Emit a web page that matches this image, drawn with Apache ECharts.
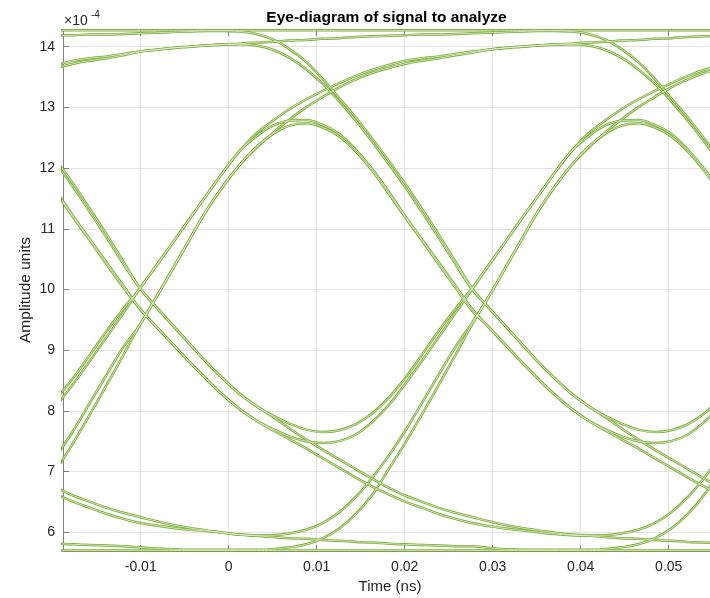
<!DOCTYPE html>
<html>
<head>
<meta charset="utf-8">
<title>Eye-diagram of signal to analyze</title>
<script src="https://cdn.jsdelivr.net/npm/echarts@6/dist/echarts.min.js"></script>
<style>
html, body { margin: 0; padding: 0; background: #fff; }
#eye { width: 710px; height: 598px; }
</style>
</head>
<body>
<div id="eye"></div>
<script>
// sample instants (ns) shared by every trace, about twenty per bit
var timeNs = [-0.01951, -0.01763, -0.01574, -0.01385, -0.01197,
  -0.01008, -0.00819, -0.00631, -0.00442, -0.00253, -0.00065, 0.00124, 0.00313, 0.00501, 0.00690, 0.00879,
  0.01067, 0.01256, 0.01445, 0.01633, 0.01822, 0.02010, 0.02199, 0.02388, 0.02576, 0.02765,
  0.02954, 0.03142, 0.03331, 0.03520, 0.03708, 0.03897, 0.04086, 0.04274, 0.04463, 0.04652,
  0.04840, 0.05029, 0.05218, 0.05406, 0.05595];

// amplitudes, in units of 1e-4 (as on the axis)
var trace00 = [5.70, 5.70, 5.70, 5.70, 5.70,
  5.70, 5.70, 5.70, 5.70, 5.70, 5.70, 5.70, 5.70, 5.70, 5.70, 5.70, 5.70, 5.70, 5.70, 5.70, 5.70, 5.70, 5.70, 5.70, 5.70, 5.70,
  5.70, 5.70, 5.70, 5.70, 5.70, 5.70, 5.70, 5.70, 5.70, 5.70, 5.70, 5.70, 5.70, 5.70, 5.70];
var trace01 = [5.81, 5.80, 5.79, 5.78, 5.77,
  5.75, 5.73, 5.72, 5.71, 5.71, 5.71, 5.71, 5.71, 5.72, 5.75, 5.80, 5.90, 6.06, 6.30, 6.62, 7.05, 7.48, 7.95, 8.43, 8.92, 9.42,
  9.88, 10.35, 10.83, 11.30, 11.70, 12.05, 12.35, 12.56, 12.70, 12.74, 12.67, 12.52, 12.27, 11.95, 11.57];
var trace02 = [7.05, 7.48, 7.95, 8.43, 8.92,
  9.42, 9.88, 10.35, 10.83, 11.30, 11.70, 12.05, 12.35, 12.56, 12.70, 12.74, 12.67, 12.52, 12.27, 11.95, 11.57, 11.18, 10.80, 10.41, 10.03, 9.65,
  9.38, 9.09, 8.80, 8.52, 8.26, 8.03, 7.84, 7.68, 7.53, 7.38, 7.22, 7.06, 6.90, 6.75, 6.62];
var trace03 = [7.27, 7.68, 8.14, 8.60, 9.05,
  9.42, 9.88, 10.35, 10.83, 11.30, 11.70, 12.05, 12.33, 12.58, 12.80, 13.00, 13.17, 13.33, 13.46, 13.57, 13.65, 13.72, 13.77, 13.81, 13.86, 13.90,
  13.95, 13.98, 14.00, 14.02, 14.03, 14.04, 14.02, 13.95, 13.82, 13.63, 13.39, 13.10, 12.78, 12.43, 12.06];
var trace04 = [11.57, 11.18, 10.80, 10.41, 10.03,
  9.68, 9.38, 9.09, 8.80, 8.52, 8.26, 8.03, 7.84, 7.68, 7.53, 7.38, 7.22, 7.06, 6.90, 6.75, 6.62, 6.50, 6.40, 6.30, 6.22, 6.15,
  6.10, 6.06, 6.03, 6.00, 5.97, 5.95, 5.94, 5.92, 5.90, 5.89, 5.87, 5.86, 5.84, 5.83, 5.81];
var trace05 = [11.60, 11.20, 10.82, 10.44, 10.06,
  9.68, 9.38, 9.09, 8.80, 8.52, 8.26, 8.03, 7.84, 7.70, 7.58, 7.50, 7.47, 7.50, 7.61, 7.82, 8.10, 8.45, 8.83, 9.22, 9.61, 10.00,
  10.40, 10.78, 11.17, 11.55, 11.93, 12.28, 12.52, 12.70, 12.78, 12.79, 12.71, 12.56, 12.30, 11.98, 11.60];
var trace06 = [13.65, 13.72, 13.77, 13.81, 13.86,
  13.92, 13.95, 13.98, 14.00, 14.02, 14.03, 14.04, 14.02, 13.95, 13.82, 13.63, 13.39, 13.10, 12.78, 12.43, 12.06, 11.68, 11.27, 10.85, 10.42, 10.00,
  9.70, 9.40, 9.10, 8.80, 8.53, 8.28, 8.08, 7.90, 7.71, 7.53, 7.36, 7.20, 7.04, 6.88, 6.73];
var trace07 = [13.70, 13.77, 13.81, 13.84, 13.88,
  13.92, 13.95, 13.98, 14.00, 14.02, 14.04, 14.05, 14.07, 14.08, 14.10, 14.11, 14.13, 14.14, 14.16, 14.17, 14.18, 14.19, 14.20, 14.20, 14.21, 14.22,
  14.23, 14.24, 14.25, 14.26, 14.26, 14.25, 14.21, 14.12, 13.96, 13.75, 13.47, 13.15, 12.83, 12.48, 12.11];
var trace08 = [6.62, 6.50, 6.40, 6.30, 6.22,
  6.15, 6.11, 6.07, 6.04, 6.02, 5.99, 5.96, 5.94, 5.92, 5.90, 5.89, 5.87, 5.86, 5.84, 5.83, 5.81, 5.80, 5.79, 5.78, 5.77, 5.77,
  5.74, 5.72, 5.71, 5.71, 5.71, 5.71, 5.71, 5.72, 5.75, 5.80, 5.90, 6.06, 6.30, 6.62, 7.05];
var trace09 = [6.73, 6.60, 6.50, 6.40, 6.32,
  6.25, 6.18, 6.12, 6.07, 6.03, 5.99, 5.96, 5.95, 5.95, 5.98, 6.04, 6.15, 6.33, 6.58, 6.90, 7.27, 7.68, 8.14, 8.60, 9.05, 9.45,
  9.88, 10.35, 10.83, 11.30, 11.70, 12.05, 12.33, 12.58, 12.80, 13.00, 13.17, 13.33, 13.46, 13.57, 13.65];
var trace10 = [8.10, 8.45, 8.83, 9.22, 9.61,
  10.02, 10.40, 10.78, 11.17, 11.55, 11.93, 12.28, 12.52, 12.70, 12.78, 12.79, 12.71, 12.56, 12.30, 11.98, 11.60, 11.20, 10.82, 10.44, 10.06, 9.68,
  9.38, 9.09, 8.80, 8.52, 8.26, 8.03, 7.84, 7.70, 7.58, 7.50, 7.47, 7.50, 7.61, 7.82, 8.10];
var trace11 = [8.22, 8.55, 8.93, 9.32, 9.68,
  10.02, 10.40, 10.78, 11.17, 11.55, 11.93, 12.28, 12.57, 12.78, 12.97, 13.13, 13.27, 13.40, 13.52, 13.62, 13.70, 13.77, 13.81, 13.84, 13.88, 13.92,
  13.95, 13.98, 14.00, 14.02, 14.04, 14.05, 14.07, 14.08, 14.10, 14.11, 14.13, 14.14, 14.16, 14.17, 14.18];
var trace12 = [12.06, 11.68, 11.27, 10.85, 10.42,
  10.02, 9.70, 9.40, 9.10, 8.80, 8.53, 8.28, 8.08, 7.90, 7.71, 7.53, 7.36, 7.20, 7.04, 6.88, 6.73, 6.60, 6.50, 6.40, 6.32, 6.25,
  6.18, 6.12, 6.07, 6.03, 5.99, 5.96, 5.95, 5.95, 5.98, 6.04, 6.15, 6.33, 6.58, 6.90, 7.27];
var trace13 = [12.11, 11.73, 11.32, 10.90, 10.46,
  10.02, 9.70, 9.40, 9.10, 8.80, 8.53, 8.28, 8.08, 7.92, 7.79, 7.69, 7.65, 7.68, 7.78, 7.96, 8.22, 8.55, 8.93, 9.32, 9.68, 10.02,
  10.40, 10.78, 11.17, 11.55, 11.93, 12.28, 12.57, 12.78, 12.97, 13.13, 13.27, 13.40, 13.52, 13.62, 13.70];
var trace14 = [14.18, 14.19, 14.20, 14.20, 14.21,
  14.22, 14.23, 14.24, 14.25, 14.26, 14.26, 14.25, 14.21, 14.12, 13.96, 13.75, 13.47, 13.15, 12.83, 12.48, 12.11, 11.73, 11.32, 10.90, 10.46, 10.02,
  9.70, 9.40, 9.10, 8.80, 8.53, 8.28, 8.08, 7.92, 7.79, 7.69, 7.65, 7.68, 7.78, 7.96, 8.22];
var trace15 = [14.27, 14.27, 14.27, 14.27, 14.27,
  14.27, 14.27, 14.27, 14.27, 14.27, 14.27, 14.27, 14.27, 14.27, 14.27, 14.27, 14.27, 14.27, 14.27, 14.27, 14.27, 14.27, 14.27, 14.27, 14.27, 14.27,
  14.27, 14.27, 14.27, 14.27, 14.27, 14.27, 14.27, 14.27, 14.27, 14.27, 14.27, 14.27, 14.27, 14.27, 14.27];

var traces = [trace00, trace01, trace02, trace03, trace04, trace05, trace06, trace07,
  trace08, trace09, trace10, trace11, trace12, trace13, trace14, trace15];

var xMin = -0.01883, xMax = 0.05469;
var yMin = 5.69, yMax = 14.275;
var font = '"Liberation Sans", Arial, Helvetica, sans-serif';
var axisGrey = '#808080';

var chart = echarts.init(document.getElementById('eye'));

function traceSeries(vals, color, width) {
  return {
    type: 'line',
    data: vals.map(function (v, i) { return [timeNs[i], v]; }),
    smooth: 0.4,
    showSymbol: false,
    silent: true,
    lineStyle: { color: color, width: width }
  };
}

var series = [];
// each trace is drawn as a green stroke with a pale core
traces.forEach(function (t) { series.push(traceSeries(t, '#77ac30', 2.5)); });
traces.forEach(function (t) { series.push(traceSeries(t, '#eaf3de', 0.8)); });

var option = {
  animation: false,
  backgroundColor: '#fff',
  grid: { left: 63, top: 30, right: 0, bottom: 47, containLabel: false },
  xAxis: [{
    type: 'value', min: xMin, max: xMax, splitNumber: 7, position: 'bottom',
    axisLine: { onZero: false, lineStyle: { color: axisGrey, width: 1 } },
    axisTick: { inside: true, length: 6, lineStyle: { color: axisGrey } },
    axisLabel: { color: '#262626', fontSize: 14, fontFamily: font, margin: 9, showMinLabel: false, showMaxLabel: false },
    splitLine: { show: true, lineStyle: { color: '#e3e3e3', width: 1 } }
  }, {
    type: 'value', min: xMin, max: xMax, splitNumber: 7, position: 'top',
    axisLine: { onZero: false, lineStyle: { color: axisGrey, width: 1 } },
    axisTick: { inside: true, length: 6, lineStyle: { color: axisGrey } },
    axisLabel: { show: false },
    splitLine: { show: false }
  }],
  yAxis: {
    type: 'value', min: yMin, max: yMax, splitNumber: 8,
    axisLine: { show: true, onZero: false, lineStyle: { color: axisGrey, width: 1 } },
    axisTick: { show: true, inside: true, length: 6, lineStyle: { color: axisGrey } },
    axisLabel: { color: '#262626', fontSize: 14, fontFamily: font, margin: 8, showMinLabel: false, showMaxLabel: false },
    splitLine: { show: true, lineStyle: { color: '#e3e3e3', width: 1 } }
  },
  graphic: [
    { type: 'text', x: 386.5, y: 18, style: { text: 'Eye-diagram of signal to analyze', fill: '#000', font: 'bold 15.5px ' + font, align: 'center', verticalAlign: 'middle' } },
    { type: 'text', x: 390, y: 587, style: { text: 'Time (ns)', fill: '#262626', font: '15px ' + font, align: 'center', verticalAlign: 'middle' } },
    { type: 'text', x: 26, y: 290, rotation: Math.PI / 2, style: { text: 'Amplitude units', fill: '#262626', font: '15.5px ' + font, align: 'center', verticalAlign: 'middle' } },
    { type: 'text', x: 64, y: 21, style: { text: '×10', fill: '#262626', font: '14px ' + font, align: 'left', verticalAlign: 'middle' } },
    { type: 'text', x: 91, y: 15, style: { text: '-4', fill: '#262626', font: '10px ' + font, align: 'left', verticalAlign: 'middle' } }
  ],
  series: series
};

chart.setOption(option);
</script>
</body>
</html>
